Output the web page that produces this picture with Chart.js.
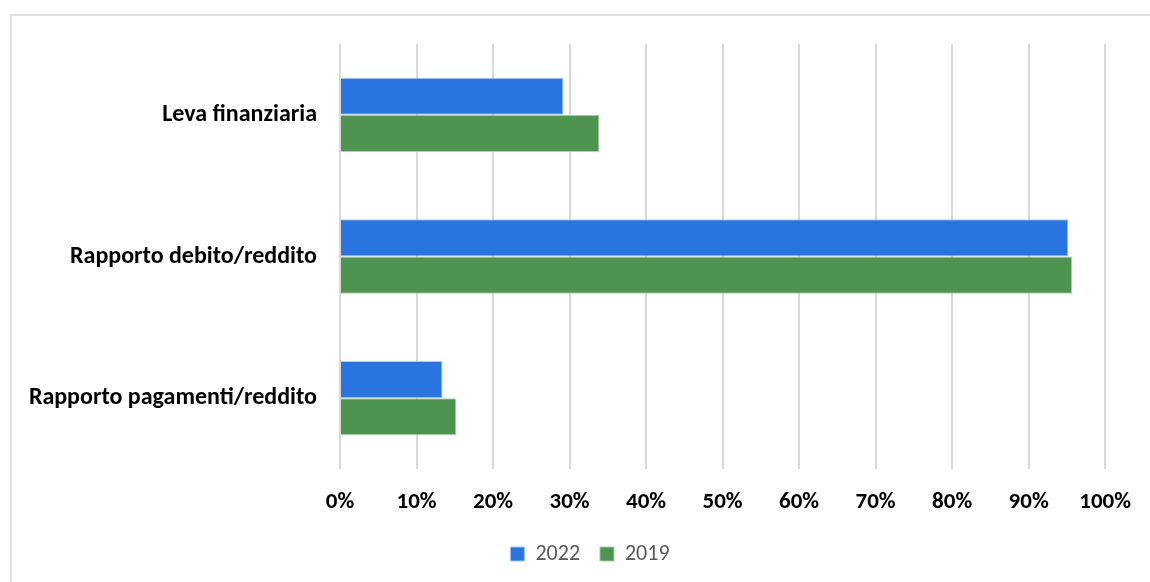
<!DOCTYPE html>
<html>
<head>
<meta charset="utf-8">
<script src="https://cdn.jsdelivr.net/npm/chart.js@4"></script>
<style>
  html, body { margin: 0; padding: 0; background: #fff; }
  #wrap { position: relative; width: 1150px; height: 582px; overflow: hidden; }
  #frame { position: absolute; left: 10px; top: 14px; width: 1200px; height: 620px;
           border-left: 2px solid #e0e0e0; border-top: 2px solid #e0e0e0; }
  #myChart { position: absolute; left: 0; top: 0; }
</style>
</head>
<body>
<div id="wrap">
  <div id="frame"></div>
  <canvas id="myChart" width="1150" height="582"></canvas>
</div>
<script>
var categories = ['Leva finanziaria', 'Rapporto debito/reddito', 'Rapporto pagamenti/reddito'];
var values2022 = [29.2, 95.2, 13.4];
var values2019 = [33.9, 95.7, 15.2];
var xMin = 0, xMax = 100, xStep = 10;

var fontFamily = "Carlito, Calibri, Lato, sans-serif";

// shift the legend so it is centred on the whole frame, like the original
var legendShift = {
  id: 'legendShift',
  afterLayout: function (chart) {
    if (chart.legend) {
      chart.legend.left += 37;
      chart.legend.right += 37;
    }
  }
};

var ctx = document.getElementById('myChart').getContext('2d');
var myChart = new Chart(ctx, {
  type: 'bar',
  data: {
    labels: categories,
    datasets: [{
        label: '2022',
        data: values2022,
        backgroundColor: '#2a74e0',
        borderColor: 'rgba(160,195,245,0.9)',
        borderWidth: 1,
        borderSkipped: 'start'
      }, {
        label: '2019',
        data: values2019,
        backgroundColor: '#4e9350',
        borderColor: 'rgba(170,205,170,0.9)',
        borderWidth: 1,
        borderSkipped: 'start'
      }
    ]
  },
  plugins: [legendShift],
  options: {
    indexAxis: 'y',
    responsive: false,
    animation: false,
    datasets: {
      bar: { barPercentage: 1, categoryPercentage: 0.525 }
    },
    layout: {
      padding: { left: 0, top: 44, right: 44, bottom: 7 }
    },
    plugins: {
      tooltip: { enabled: false },
      legend: {
        position: 'bottom',
        labels: {
          boxWidth: 14,
          boxHeight: 14,
          padding: 10,
          color: '#595959',
          font: { family: fontFamily, size: 22 },
          generateLabels: function (chart) {
            var items = Chart.defaults.plugins.legend.labels.generateLabels(chart);
            items.forEach(function (it, i) {
              it.fontColor = '#595959';
              if (i < items.length - 1) it.text = it.text + '  ';
            });
            return items;
          }
        }
      }
    },
    scales: {
      x: {
        min: xMin,
        max: xMax,
        border: { display: false },
        grid: { color: '#d9d9d9', lineWidth: 2, drawTicks: false },
        ticks: {
          stepSize: xStep,
          padding: 19,
          color: '#000',
          font: { family: fontFamily, size: 23, weight: 'bold' },
          callback: function (v) { return v + '%'; }
        },
        afterFit: function (scale) { scale.height = 64; }
      },
      y: {
        border: { display: false },
        grid: { display: false, drawTicks: false },
        ticks: {
          padding: 23,
          color: '#000',
          font: { family: fontFamily, size: 24, weight: 'bold' }
        },
        afterFit: function (scale) { scale.width = 340; }
      }
    }
  }
});
</script>
</body>
</html>
